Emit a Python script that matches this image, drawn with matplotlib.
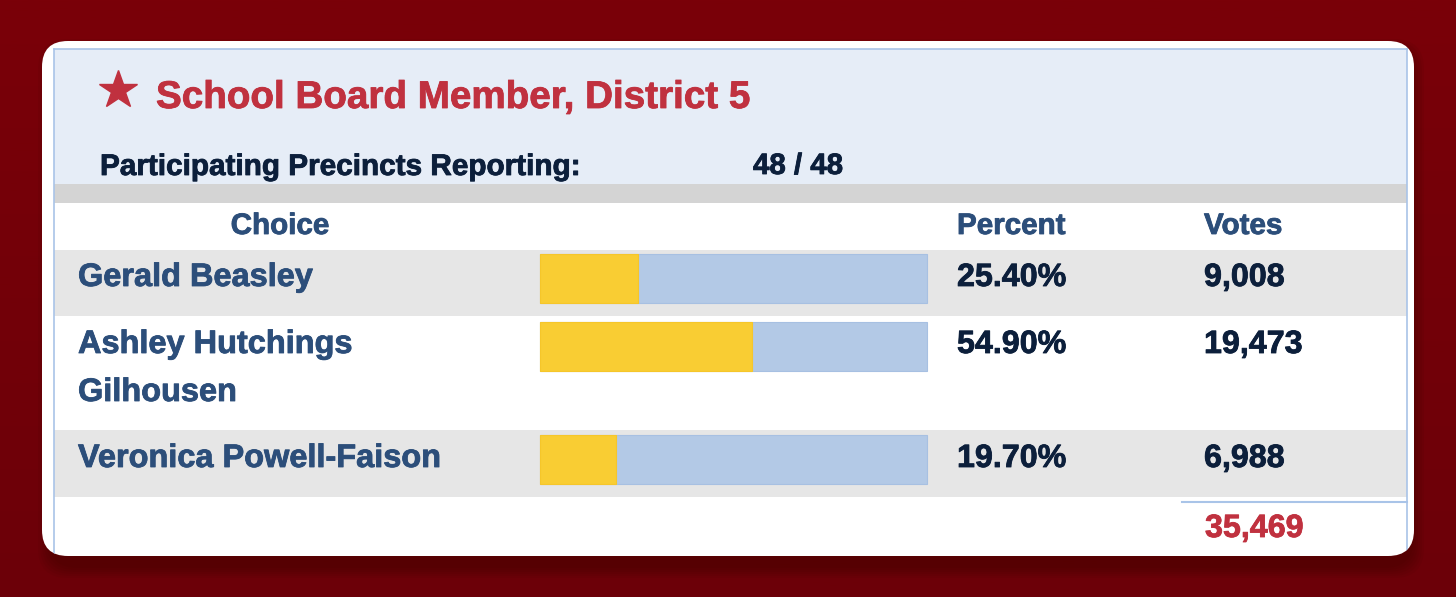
import matplotlib
matplotlib.use("Agg")
import matplotlib.pyplot as plt
import matplotlib.patheffects as pe
from matplotlib.patches import Rectangle, FancyBboxPatch
import numpy as np

# data
title = "School Board Member, District 5"
precincts_label = "Participating Precincts Reporting:"
precincts_value = "48 / 48"
headers = ["Choice", "Percent", "Votes"]
names = ["Gerald Beasley", "Ashley Hutchings\nGilhousen", "Veronica Powell-Faison"]
percents = [25.40, 54.90, 19.70]
votes = [9008, 19473, 6988]
total_votes = 35469

# colours
RED = "#C0313F"
NAME_BLUE = "#2C4E7A"
NAVY = "#0C1F3B"
YELLOW = "#F9CD33"
BAR_BG = "#B3C9E6"
BORDER = "#A9C4E8"

plt.rcParams['font.family'] = ['Liberation Sans', 'DejaVu Sans']

W, H = 1456, 597
fig = plt.figure(figsize=(W / 100, H / 100), dpi=100)
ax = fig.add_axes([0, 0, 1, 1])
ax.set_xlim(0, W)
ax.set_ylim(H, 0)
ax.axis('off')


def label(x, y, s, color, size, **kw):
    t = ax.text(x, y, s, color=color, fontsize=size, fontweight='bold', va='baseline', zorder=7, **kw)
    t.set_path_effects([pe.withStroke(linewidth=0.6, foreground=color)])
    return t


# dark red background gradient
grad = np.linspace(0, 1, 256).reshape(-1, 1)
bg = matplotlib.colors.LinearSegmentedColormap.from_list("bg", ["#7A0008", "#6C0008"])
ax.imshow(grad, cmap=bg, extent=[0, W, H, 0], aspect='auto', zorder=0)

# soft shadow under the card
for i in range(6):
    grow = 12 - 2 * i
    ax.add_patch(FancyBboxPatch((42 - grow + 8, 41 - grow + 10), 1372 + 2 * grow - 10, 515 + 2 * grow,
                                boxstyle="round,pad=0,rounding_size=30",
                                fc="#2a0000", ec="none", alpha=0.06, zorder=1))

card = FancyBboxPatch((42, 41), 1372, 515, boxstyle="round,pad=0,rounding_size=26",
                      fc="white", ec="none", zorder=2)
ax.add_patch(card)

tl, tr = 54, 1407


def band(y0, y1, color):
    r = Rectangle((tl, y0), tr - tl, y1 - y0, fc=color, ec="none", zorder=3)
    ax.add_patch(r)
    r.set_clip_path(card)


band(49, 184, "#E6EDF7")
band(184, 203, "#D4D4D4")
band(250, 316, "#E6E6E6")
band(430, 497, "#E6E6E6")

# table frame
for ln in [ax.plot([tl, tl], [49, 560], color=BORDER, lw=1.2, zorder=4)[0],
           ax.plot([tr, tr], [49, 560], color=BORDER, lw=1.2, zorder=4)[0],
           ax.plot([tl, tr], [49, 49], color=BORDER, lw=1.2, zorder=4)[0]]:
    ln.set_clip_path(card)

# title
ax.plot([117.5], [90], marker='*', ms=29, color=RED, mec=RED, zorder=5)
label(156, 108, title, RED, 27.8)
label(100, 175, precincts_label, NAVY, 21.4)
label(753, 174, precincts_value, NAVY, 21.2)

# column headers
label(280, 234, headers[0], NAME_BLUE, 21.3, ha='center')
label(957, 234, headers[1], NAME_BLUE, 21.3)
label(1204, 234, headers[2], NAME_BLUE, 21.3)

# rows
baselines = [286, 353, 467]
bar_centers = [278.5, 346, 459.5]
bar_left, bar_span, bar_h = 540, 387, 49
for name, pct, v, yb, yc in zip(names, percents, votes, baselines, bar_centers):
    for k, part in enumerate(name.split("\n")):
        label(78, yb + 48 * k, part, NAME_BLUE, 23.4)
    ax.barh(yc, bar_span, left=bar_left, height=bar_h, color=BAR_BG, edgecolor="#A7C0E2", lw=0.8, zorder=5)
    ax.barh(yc, pct / 100 * bar_span, left=bar_left, height=bar_h, color=YELLOW, edgecolor="#F6C62A",
            lw=0.8, zorder=6)
    label(957, yb, f"{pct:.2f}%", NAVY, 23.2)
    label(1204, yb, f"{v:,}", NAVY, 23.2)

# total
ax.plot([1182, tr], [502, 502], color=BORDER, lw=1.5, zorder=5)
label(1205, 537, f"{total_votes:,}", RED, 23.2)

fig.savefig("out.png", dpi=100)
